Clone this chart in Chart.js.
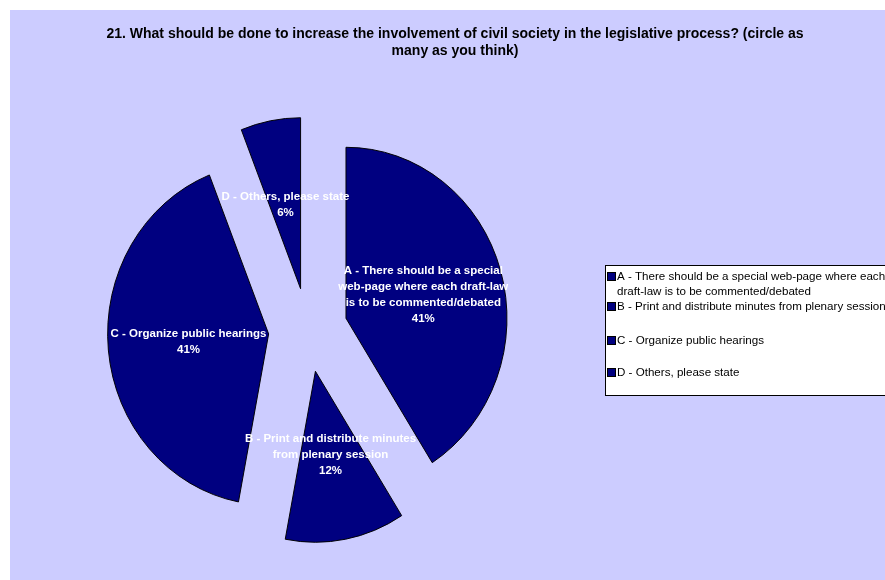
<!DOCTYPE html>
<html>
<head>
<meta charset="utf-8">
<title>Civil society involvement</title>
<script src="https://cdn.jsdelivr.net/npm/chart.js@4.4.1/dist/chart.umd.min.js"></script>
<style>
  html, body { margin: 0; padding: 0; background: #ffffff; }
  #wrap { position: relative; width: 885px; height: 580px; }
  canvas { display: block; }
</style>
</head>
<body>
<div id="wrap"><canvas id="chart" width="885" height="580"></canvas></div>
<script>
// ---- chart content ----
const titleLines = [
  '21. What should be done to increase the involvement of civil society in the legislative process? (circle as',
  'many as you think)'
];
const categories = [
  'A - There should be a special web-page where each draft-law is to be commented/debated',
  'B - Print and distribute minutes from plenary session',
  'C - Organize public hearings',
  'D - Others, please state'
];
const shares = [41, 12, 41, 6];
const sliceLabelLines = [
  ['A - There should be a special', 'web-page where each draft-law', 'is to be commented/debated'],
  ['B - Print and distribute minutes', 'from plenary session'],
  ['C - Organize public hearings'],
  ['D - Others, please state']
];
const legendLines = [
  ['A - There should be a special web-page where each', 'draft-law is to be commented/debated'],
  ['B - Print and distribute minutes from plenary session'],
  ['C - Organize public hearings'],
  ['D - Others, please state']
];

// ---- styling ----
const FONT = '"Liberation Sans", Arial, Helvetica, sans-serif';
const NAVY = '#000080';
const LAVENDER = '#CCCCFF';

// page background and the lavender chart panel
const panelPlugin = {
  id: 'panel',
  beforeDraw(chart, args, o) {
    const ctx = chart.ctx;
    ctx.save();
    ctx.fillStyle = '#ffffff';
    ctx.fillRect(0, 0, chart.width, chart.height);
    ctx.fillStyle = o.color;
    ctx.fillRect(o.left, o.top, chart.width - o.left, chart.height - o.top);
    ctx.restore();
  }
};

// slightly oval pie: horizontal squeeze about the pie centre
function squeezeAbout(ctx, x, y, sx) {
  ctx.translate(x, y);
  ctx.scale(sx, 1);
  ctx.translate(-x, -y);
}

// every slice is pulled out from the centre along its mid angle
const explodePlugin = {
  id: 'explode',
  beforeDatasetDraw(chart, args, o) {
    const ctx = chart.ctx;
    args.meta.data.forEach(arc => {
      const mid = (arc.startAngle + arc.endAngle) / 2;
      ctx.save();
      squeezeAbout(ctx, arc.x, arc.y, o.squeeze);
      ctx.translate(Math.cos(mid) * o.distance, Math.sin(mid) * o.distance);
      arc.draw(ctx);
      ctx.restore();
    });
    return false;
  }
};

// category name and percentage written inside each slice
const sliceLabelPlugin = {
  id: 'sliceLabels',
  afterDatasetsDraw(chart, args, o) {
    const ctx = chart.ctx;
    const meta = chart.getDatasetMeta(0);
    const values = chart.data.datasets[0].data;
    const total = values.reduce((a, b) => a + b, 0);
    const ex = chart.options.plugins.explode;
    ctx.save();
    ctx.font = 'bold ' + o.size + 'px ' + FONT;
    ctx.fillStyle = o.color;
    ctx.textAlign = 'center';
    ctx.textBaseline = 'middle';
    meta.data.forEach((arc, i) => {
      const mid = (arc.startAngle + arc.endAngle) / 2;
      const dist = ex.distance + arc.outerRadius * o.radial;
      const cx = arc.x + Math.cos(mid) * dist * ex.squeeze;
      const cy = arc.y + Math.sin(mid) * dist;
      const lines = sliceLabelLines[i].concat([Math.round(values[i] / total * 100) + '%']);
      const y0 = cy - (lines.length - 1) * o.lineHeight / 2;
      lines.forEach((t, k) => ctx.fillText(t, cx, y0 + k * o.lineHeight));
    });
    ctx.restore();
  }
};

// two-line heading above the pie
const headingPlugin = {
  id: 'heading',
  afterDraw(chart, args, o) {
    const ctx = chart.ctx;
    ctx.save();
    ctx.font = 'bold ' + o.size + 'px ' + FONT;
    ctx.fillStyle = '#000000';
    ctx.textAlign = 'center';
    ctx.textBaseline = 'middle';
    titleLines.forEach((t, k) => ctx.fillText(t, o.x, o.y + k * o.lineHeight));
    ctx.restore();
  }
};

// boxed legend on the right, running past the page edge
const boxLegendPlugin = {
  id: 'boxLegend',
  afterDraw(chart, args, o) {
    const ctx = chart.ctx;
    const colors = chart.data.datasets[0].backgroundColor;
    ctx.save();
    ctx.fillStyle = '#ffffff';
    ctx.fillRect(o.left, o.top, o.width, o.height);
    ctx.strokeStyle = '#000000';
    ctx.lineWidth = 1;
    ctx.strokeRect(o.left + 0.5, o.top + 0.5, o.width, o.height);
    ctx.font = o.size + 'px ' + FONT;
    ctx.textAlign = 'left';
    ctx.textBaseline = 'middle';
    legendLines.forEach((lines, i) => {
      const y = o.rows[i];
      ctx.fillStyle = colors[i];
      ctx.fillRect(o.left + 2.5, y - 4.5, o.box, o.box);
      ctx.strokeStyle = '#000000';
      ctx.strokeRect(o.left + 2.5, y - 4.5, o.box, o.box);
      ctx.fillStyle = '#000000';
      lines.forEach((t, k) => ctx.fillText(t, o.left + 12, y + k * o.lineHeight));
    });
    ctx.restore();
  }
};

new Chart(document.getElementById('chart'), {
  type: 'pie',
  data: {
    labels: categories,
    datasets: [{
      data: shares,
      backgroundColor: [NAVY, NAVY, NAVY, NAVY],
      borderColor: '#000000',
      borderWidth: 1,
      radius: 171
    }]
  },
  options: {
    responsive: false,
    devicePixelRatio: 1,
    animation: false,
    events: [],
    layout: { padding: { left: 58, right: 327, top: 130, bottom: 50 } },
    plugins: {
      legend: { display: false },
      title: { display: false },
      tooltip: { enabled: false },
      panel: { color: LAVENDER, left: 10, top: 10 },
      explode: { distance: 42, squeeze: 0.9415 },
      sliceLabels: { size: 11.5, lineHeight: 16, color: '#ffffff', radial: 0.5 },
      heading: { size: 14, x: 455, y: 34, lineHeight: 17 },
      boxLegend: { left: 605, top: 265, width: 300, height: 130, size: 11.6, lineHeight: 14.5, box: 8, rows: [277, 307, 341, 373] }
    }
  },
  plugins: [panelPlugin, explodePlugin, sliceLabelPlugin, headingPlugin, boxLegendPlugin]
});
</script>
</body>
</html>
